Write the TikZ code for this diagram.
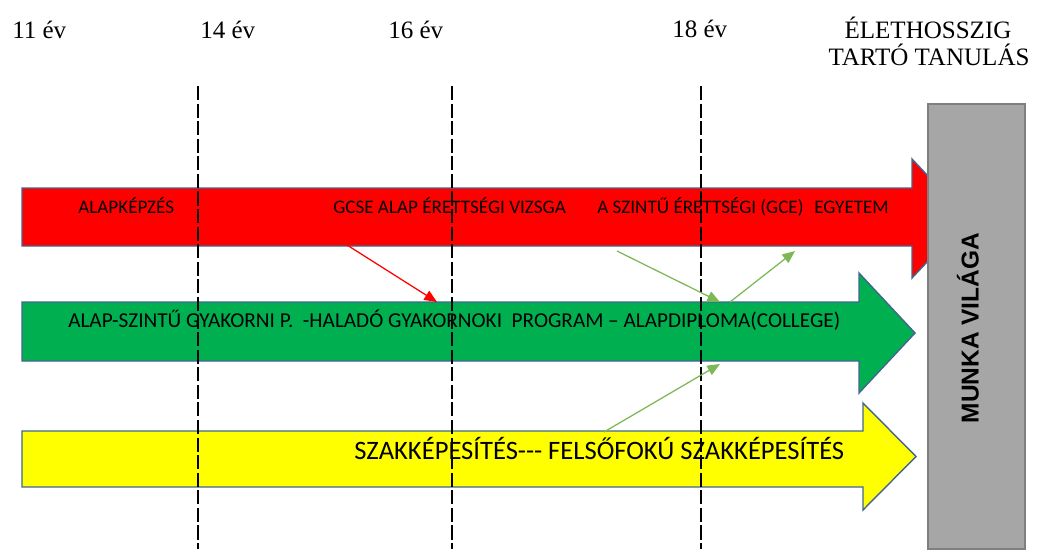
\documentclass[tikz,border=0pt]{standalone}
\usepackage{fontspec}
\setmainfont{Liberation Serif}
\newfontfamily\calibri{Carlito}
\newfontfamily\sansbold{Liberation Sans}
\usetikzlibrary{arrows.meta}

\definecolor{barred}{HTML}{FF0000}
\definecolor{bargreen}{HTML}{00B050}
\definecolor{baryellow}{HTML}{FFFF00}
\definecolor{baredge}{HTML}{41668F}
\definecolor{worldgrey}{HTML}{A6A6A6}
\definecolor{worldedge}{HTML}{7F7F7F}
\definecolor{linkgreen}{HTML}{7DB857}

\tikzset{
  bar/.style={draw=baredge, line width=1pt, line join=miter},
  bartext/.style={font=\calibri\fontsize{13.6}{16}\selectfont, inner sep=0pt, anchor=base west},
  agelabel/.style={font=\fontsize{17.8}{20}\selectfont, inner sep=0pt, anchor=base west},
  ageline/.style={line width=0.75pt, dash pattern=on 10pt off 2.5pt},
  link/.style={line width=0.9pt, -{Triangle[length=9pt,width=7.5pt]}},
}

\begin{document}
\begin{tikzpicture}[x=0.025cm, y=-0.025cm]
            \useasboundingbox (0,0) rectangle (1045,549);
            % Age labels
            \node[agelabel] (age11) at (12,38) {11 év};
            \node[agelabel] (age14) at (200,38) {14 év};
            \node[agelabel] (age16) at (388,38) {16 év};
            \node[agelabel] (age18) at (672,37) {18 év};
            \node[agelabel, anchor=base] (life1) at (928,38) {ÉLETHOSSZIG};
            \node[agelabel, anchor=base] (life2) at (929,65) {TARTÓ TANULÁS};
            % Draw the three paths
            \foreach \col/\ytop/\ybot/\hyt/\hyb/\xb/\xt in {barred/188/246/159/278/912/968,
                bargreen/302/361/273/393/859/915, baryellow/431/487/403/510/863/916}{
                \draw[bar, fill=\col] (22,\ytop) -- (\xb,\ytop) -- (\xb,\hyt)
                    -- (\xt,{(\hyt+\hyb)/2}) -- (\xb,\hyb) -- (\xb,\ybot) -- (22,\ybot) -- cycle;
            }
            % Texts on the paths
            \node[bartext] (basic) at (78,213) {ALAPKÉPZÉS};
            \node[bartext] (gcse) at (333,213) {GCSE ALAP ÉRETTSÉGI VIZSGA};
            \node[bartext] (alevel) at (597,213) {A SZINTŰ ÉRETTSÉGI (GCE)};
            \node[bartext] (uni) at (814,213) {EGYETEM};
            \node[bartext, font=\calibri\fontsize{15.1}{18}\selectfont] (appr) at (68,327) {ALAP-SZINTŰ GYAKORNI P.\ \ -HALADÓ GYAKORNOKI\ \ PROGRAM – ALAPDIPLOMA(COLLEGE)};
            \node[bartext, font=\calibri\fontsize{18.9}{22}\selectfont] (voc) at (354,459) {SZAKKÉPESÍTÉS-{}-{}- FELSŐFOKÚ SZAKKÉPESÍTÉS};
            % Age borders
            \foreach \x in {198,452,701}{
                \draw[ageline] (\x,86) -- (\x,549);
            }
            % Crossings between the paths
            \coordinate (redfrom) at (347,245);
            \coordinate (redto) at (437,302);
            \coordinate (gcefrom) at (617,251);
            \coordinate (gceto) at (720,302);
            \coordinate (colfrom) at (730,302);
            \coordinate (colto) at (795,251);
            \coordinate (vocfrom) at (604,432);
            \coordinate (vocto) at (720,364);
            \draw[link, barred] (redfrom) -- (redto);
            \draw[link, linkgreen] (gcefrom) -- (gceto);
            \draw[link, linkgreen] (colfrom) -- (colto);
            \draw[link, linkgreen] (vocfrom) -- (vocto);
            % World of work
            \draw[fill=worldgrey, draw=worldedge, line width=1.5pt] (928,104) rectangle (1025,549);
            \node[rotate=90, inner sep=0pt, font=\sansbold\bfseries\fontsize{17.4}{20}\selectfont] (work) at (968,328) {MUNKA VILÁGA};
\end{tikzpicture}
\end{document}
